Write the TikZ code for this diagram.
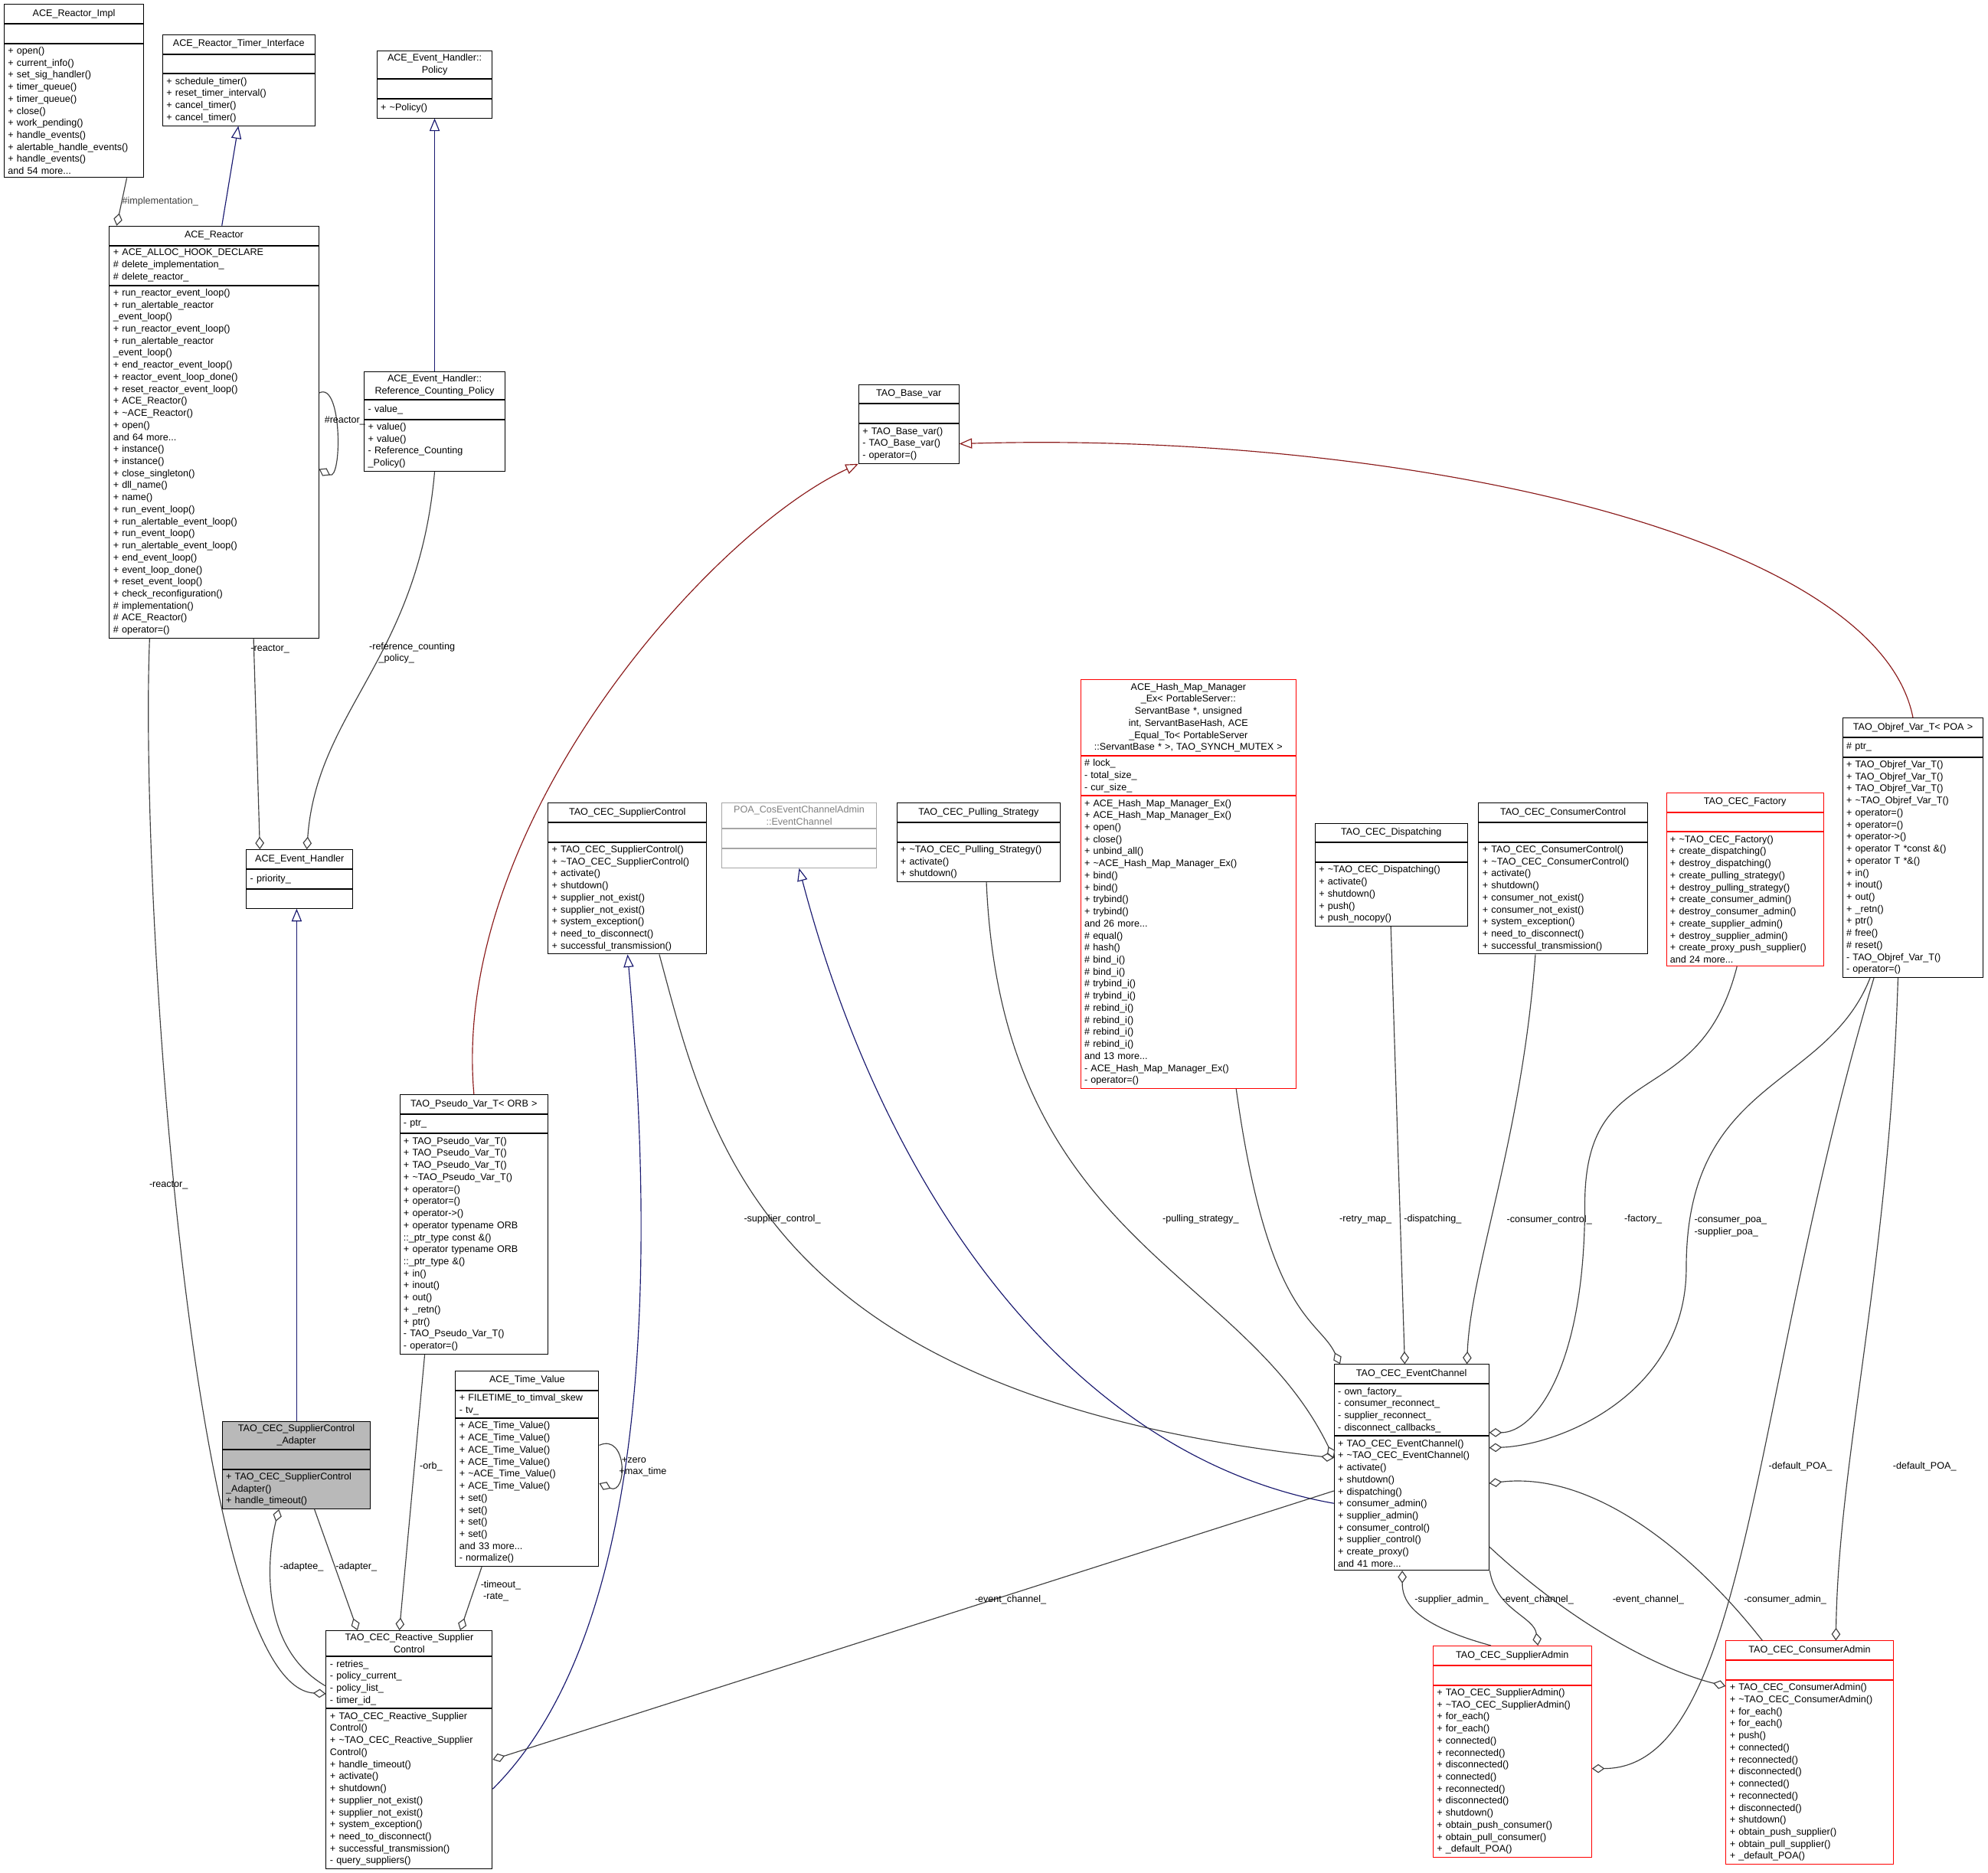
\documentclass[tikz,border=0pt]{standalone}
\usepackage{fontspec}
\setmainfont{Liberation Sans}
\usetikzlibrary{arrows.meta,positioning}

\definecolor{assoc}{HTML}{404040}
\definecolor{inhblue}{HTML}{191970}
\definecolor{inhred}{HTML}{8B1A1A}

\tikzset{
  clspart/.style={draw, line width=0.6pt, inner xsep=3pt, inner ysep=2.5pt,
    align=left, minimum height=15pt, font=\fontsize{7.6}{9.5}\selectfont},
  clstitle/.style={clspart, align=center},
  redcls/.style={draw=red},
  graycls/.style={draw=gray!70, text=gray},
  grayfill/.style={fill=gray!55},
  lbl/.style={font=\fontsize{7.6}{9.5}\selectfont, align=left, inner sep=0pt},
  uses/.style={assoc, line width=0.7pt, -{Diamond[open,length=10pt,width=7pt]}},
  isa/.style={inhblue, line width=0.7pt, -{Triangle[open,length=10pt,width=8pt]}},
  isared/.style={inhred, line width=0.7pt, -{Triangle[open,length=10pt,width=8pt]}}
}

% name, x, y, width, title, attributes, methods
\newcommand\umlclass[8][]{%
  \node[clstitle, #1, text width=#5pt-6pt, minimum width=#5pt, anchor=north west] (#2) at (#3,#4) {#6};
  \node[clspart, #1, text width=#5pt-6pt, minimum width=#5pt, anchor=north] (#2-a) at (#2.south) {#7};
  \node[clspart, #1, text width=#5pt-6pt, minimum width=#5pt, anchor=north] (#2-m) at (#2-a.south) {#8};
}

\begin{document}
\begin{tikzpicture}[x=1pt, y=-1pt]
  \useasboundingbox[fill=white] (0,0) rectangle (1568,1477);

  \umlclass{impl}{3}{3}{110}{ACE\_Reactor\_Impl}{}{+ open()\\+ current\_info()\\+ set\_sig\_handler()\\+ timer\_queue()\\+ timer\_queue()\\+ close()\\+ work\_pending()\\+ handle\_events()\\+ alertable\_handle\_events()\\+ handle\_events()\\and 54 more...}
  \umlclass{timer}{128}{27}{120}{ACE\_Reactor\_Timer\_Interface}{}{+ schedule\_timer()\\+ reset\_timer\_interval()\\+ cancel\_timer()\\+ cancel\_timer()}
  \umlclass{policy}{297}{40}{91}{ACE\_Event\_Handler::\\Policy}{}{+ \textasciitilde Policy()}
  \umlclass{reactor}{86}{178}{165}{ACE\_Reactor}{+ ACE\_ALLOC\_HOOK\_DECLARE\\\# delete\_implementation\_\\\# delete\_reactor\_}{+ run\_reactor\_event\_loop()\\+ run\_alertable\_reactor\\\_event\_loop()\\+ run\_reactor\_event\_loop()\\+ run\_alertable\_reactor\\\_event\_loop()\\+ end\_reactor\_event\_loop()\\+ reactor\_event\_loop\_done()\\+ reset\_reactor\_event\_loop()\\+ ACE\_Reactor()\\+ \textasciitilde ACE\_Reactor()\\+ open()\\and 64 more...\\+ instance()\\+ instance()\\+ close\_singleton()\\+ dll\_name()\\+ name()\\+ run\_event\_loop()\\+ run\_alertable\_event\_loop()\\+ run\_event\_loop()\\+ run\_alertable\_event\_loop()\\+ end\_event\_loop()\\+ event\_loop\_done()\\+ reset\_event\_loop()\\+ check\_reconfiguration()\\\# implementation()\\\# ACE\_Reactor()\\\# operator=()}
  \umlclass{refpol}{287}{293}{111}{ACE\_Event\_Handler::\\Reference\_Counting\_Policy}{- value\_}{+ value()\\+ value()\\- Reference\_Counting\\\_Policy()}
  \umlclass{basevar}{677}{303}{79}{TAO\_Base\_var}{}{+ TAO\_Base\_var()\\- TAO\_Base\_var()\\- operator=()}
  \umlclass{evh}{194}{670}{84}{ACE\_Event\_Handler}{- priority\_}{}
  \umlclass[grayfill]{adapter}{175}{1121}{117}{TAO\_CEC\_SupplierControl\\\_Adapter}{}{+ TAO\_CEC\_SupplierControl\\\_Adapter()\\+ handle\_timeout()}
  \umlclass{pseudo}{315}{863}{117}{TAO\_Pseudo\_Var\_T< ORB >}{- ptr\_}{+ TAO\_Pseudo\_Var\_T()\\+ TAO\_Pseudo\_Var\_T()\\+ TAO\_Pseudo\_Var\_T()\\+ \textasciitilde TAO\_Pseudo\_Var\_T()\\+ operator=()\\+ operator=()\\+ operator->()\\+ operator typename ORB\\::\_ptr\_type const \&()\\+ operator typename ORB\\::\_ptr\_type \&()\\+ in()\\+ inout()\\+ out()\\+ \_retn()\\+ ptr()\\- TAO\_Pseudo\_Var\_T()\\- operator=()}
  \umlclass{timeval}{359}{1081}{113}{ACE\_Time\_Value}{+ FILETIME\_to\_timval\_skew\\- tv\_}{+ ACE\_Time\_Value()\\+ ACE\_Time\_Value()\\+ ACE\_Time\_Value()\\+ ACE\_Time\_Value()\\+ \textasciitilde ACE\_Time\_Value()\\+ ACE\_Time\_Value()\\+ set()\\+ set()\\+ set()\\+ set()\\and 33 more...\\- normalize()}
  \umlclass{reactive}{257}{1286}{131}{TAO\_CEC\_Reactive\_Supplier\\Control}{- retries\_\\- policy\_current\_\\- policy\_list\_\\- timer\_id\_}{+ TAO\_CEC\_Reactive\_Supplier\\Control()\\+ \textasciitilde TAO\_CEC\_Reactive\_Supplier\\Control()\\+ handle\_timeout()\\+ activate()\\+ shutdown()\\+ supplier\_not\_exist()\\+ supplier\_not\_exist()\\+ system\_exception()\\+ need\_to\_disconnect()\\+ successful\_transmission()\\- query\_suppliers()}
  \umlclass{supctl}{432}{633}{125}{TAO\_CEC\_SupplierControl}{}{+ TAO\_CEC\_SupplierControl()\\+ \textasciitilde TAO\_CEC\_SupplierControl()\\+ activate()\\+ shutdown()\\+ supplier\_not\_exist()\\+ supplier\_not\_exist()\\+ system\_exception()\\+ need\_to\_disconnect()\\+ successful\_transmission()}
  \umlclass[graycls]{poaec}{569}{633}{122}{POA\_CosEventChannelAdmin\\::EventChannel}{}{}
  \umlclass{pulling}{707}{633}{129}{TAO\_CEC\_Pulling\_Strategy}{}{+ \textasciitilde TAO\_CEC\_Pulling\_Strategy()\\+ activate()\\+ shutdown()}
  \umlclass[redcls]{hashmap}{852}{536}{170}{ACE\_Hash\_Map\_Manager\\\_Ex< PortableServer::\\ServantBase *, unsigned\\ int, ServantBaseHash, ACE\\\_Equal\_To< PortableServer\\::ServantBase * >, TAO\_SYNCH\_MUTEX >}{\# lock\_\\- total\_size\_\\- cur\_size\_}{+ ACE\_Hash\_Map\_Manager\_Ex()\\+ ACE\_Hash\_Map\_Manager\_Ex()\\+ open()\\+ close()\\+ unbind\_all()\\+ \textasciitilde ACE\_Hash\_Map\_Manager\_Ex()\\+ bind()\\+ bind()\\+ trybind()\\+ trybind()\\and 26 more...\\\# equal()\\\# hash()\\\# bind\_i()\\\# bind\_i()\\\# trybind\_i()\\\# trybind\_i()\\\# rebind\_i()\\\# rebind\_i()\\\# rebind\_i()\\\# rebind\_i()\\and 13 more...\\- ACE\_Hash\_Map\_Manager\_Ex()\\- operator=()}
  \umlclass{dispatch}{1037}{649}{120}{TAO\_CEC\_Dispatching}{}{+ \textasciitilde TAO\_CEC\_Dispatching()\\+ activate()\\+ shutdown()\\+ push()\\+ push\_nocopy()}
  \umlclass{conctl}{1166}{633}{133}{TAO\_CEC\_ConsumerControl}{}{+ TAO\_CEC\_ConsumerControl()\\+ \textasciitilde TAO\_CEC\_ConsumerControl()\\+ activate()\\+ shutdown()\\+ consumer\_not\_exist()\\+ consumer\_not\_exist()\\+ system\_exception()\\+ need\_to\_disconnect()\\+ successful\_transmission()}
  \umlclass[redcls]{factory}{1314}{625}{124}{TAO\_CEC\_Factory}{}{+ \textasciitilde TAO\_CEC\_Factory()\\+ create\_dispatching()\\+ destroy\_dispatching()\\+ create\_pulling\_strategy()\\+ destroy\_pulling\_strategy()\\+ create\_consumer\_admin()\\+ destroy\_consumer\_admin()\\+ create\_supplier\_admin()\\+ destroy\_supplier\_admin()\\+ create\_proxy\_push\_supplier()\\and 24 more...}
  \umlclass{objref}{1453}{566}{111}{TAO\_Objref\_Var\_T< POA >}{\# ptr\_}{+ TAO\_Objref\_Var\_T()\\+ TAO\_Objref\_Var\_T()\\+ TAO\_Objref\_Var\_T()\\+ \textasciitilde TAO\_Objref\_Var\_T()\\+ operator=()\\+ operator=()\\+ operator->()\\+ operator T *const \&()\\+ operator T *\&()\\+ in()\\+ inout()\\+ out()\\+ \_retn()\\+ ptr()\\\# free()\\\# reset()\\- TAO\_Objref\_Var\_T()\\- operator=()}
  \umlclass{ec}{1052}{1076}{122}{TAO\_CEC\_EventChannel}{- own\_factory\_\\- consumer\_reconnect\_\\- supplier\_reconnect\_\\- disconnect\_callbacks\_}{+ TAO\_CEC\_EventChannel()\\+ \textasciitilde TAO\_CEC\_EventChannel()\\+ activate()\\+ shutdown()\\+ dispatching()\\+ consumer\_admin()\\+ supplier\_admin()\\+ consumer\_control()\\+ supplier\_control()\\+ create\_proxy()\\and 41 more...}
  \umlclass[redcls]{supadm}{1130}{1298}{125}{TAO\_CEC\_SupplierAdmin}{}{+ TAO\_CEC\_SupplierAdmin()\\+ \textasciitilde TAO\_CEC\_SupplierAdmin()\\+ for\_each()\\+ for\_each()\\+ connected()\\+ reconnected()\\+ disconnected()\\+ connected()\\+ reconnected()\\+ disconnected()\\+ shutdown()\\+ obtain\_push\_consumer()\\+ obtain\_pull\_consumer()\\+ \_default\_POA()}
  \umlclass[redcls]{conadm}{1361}{1294}{132}{TAO\_CEC\_ConsumerAdmin}{}{+ TAO\_CEC\_ConsumerAdmin()\\+ \textasciitilde TAO\_CEC\_ConsumerAdmin()\\+ for\_each()\\+ for\_each()\\+ push()\\+ connected()\\+ reconnected()\\+ disconnected()\\+ connected()\\+ reconnected()\\+ disconnected()\\+ shutdown()\\+ obtain\_push\_supplier()\\+ obtain\_pull\_supplier()\\+ \_default\_POA()}

  % inheritance
  \draw[isa] (reactor.north -| 175,0) -- (timer-m.south -| 188,0);
  \draw[isa] (refpol.north) -- (policy-m.south);
  \draw[isa] (adapter.north -| 234,0) -- (evh-m.south -| 234,0);
  \draw[isared] (pseudo.north) .. controls (355,650) and (560,420) .. (basevar-m.south west);
  \draw[isared] (objref.north) .. controls (1480,420) and (1100,340) .. (basevar-m.east);
  \draw[isa] (reactive-m.east) .. controls (470,1330) and (530,1150) .. (supctl-m.south -| 495,0);
  \draw[isa] (ec-m.west) .. controls (850,1150) and (700,950) .. (poaec-m.south);

  % associations
  \draw[uses] (impl-m.south -| 100,0) -- (reactor.north -| 92,0) node[lbl, pos=0.5, right] (l-impl) {\#implementation\_};
  \draw[uses] (reactor-m.east |- 0,310) .. controls (270,300) and (270,380) .. (reactor-m.east |- 0,370);
  \node[lbl] (l-selfreactor) at (272,332) {\#reactor\_};
  \draw[uses] (reactor-m.south -| 200,0) -- (evh.north -| 205,0);
  \node[lbl] (l-reactor1) at (213,512) {-reactor\_};
  \draw[uses] (refpol-m.south) .. controls (330,520) and (250,560) .. (evh.north -| 242,0);
  \node[lbl] (l-refpol) at (325,515) {-reference\_counting\\\quad\_policy\_};
  \draw[uses] (reactor-m.south -| 118,0) .. controls (110,700) and (150,1330) .. (reactive-m.west |- 0,1336);
  \node[lbl] (l-reactor2) at (133,935) {-reactor\_};
  \draw[uses] (adapter-m.south -| 248,0) -- (reactive.north -| 282,0);
  \node[lbl] (l-adapter) at (281,1236) {-adapter\_};
  \draw[uses] (reactive-m.west |- 0,1330) .. controls (205,1300) and (210,1230) .. (adapter-m.south -| 220,0);
  \node[lbl] (l-adaptee) at (238,1236) {-adaptee\_};
  \draw[uses] (pseudo-m.south -| 335,0) -- (reactive.north -| 315,0);
  \node[lbl] (l-orb) at (340,1157) {-orb\_};
  \draw[uses] (timeval-m.south -| 380,0) -- (reactive.north -| 363,0);
  \node[lbl] (l-timeout) at (395,1255) {-timeout\_\\\ -rate\_};
  \draw[uses] (timeval-m.east |- 0,1140) .. controls (495,1130) and (495,1180) .. (timeval-m.east |- 0,1170);
  \node[lbl] (l-zero) at (507,1157) {\ +zero\\+max\_time};
  \draw[uses] (supctl-m.south -| 520,0) .. controls (560,900) and (600,1100) .. (ec-m.west |- 0,1150);
  \node[lbl] (l-supctl) at (617,962) {-supplier\_control\_};
  \draw[uses] (pulling-m.south -| 778,0) .. controls (790,980) and (980,1000) .. (ec-m.west |- 0,1150);
  \node[lbl] (l-pulling) at (947,962) {-pulling\_strategy\_};
  \draw[uses] (hashmap-m.south -| 975,0) .. controls (1000,1040) and (1040,1040) .. (ec.north -| 1057,0);
  \node[lbl] (l-retry) at (1077,962) {-retry\_map\_};
  \draw[uses] (dispatch-m.south -| 1097,0) -- (ec.north -| 1108,0);
  \node[lbl] (l-dispatch) at (1130,962) {-dispatching\_};
  \draw[uses] (conctl-m.south -| 1211,0) .. controls (1200,900) and (1160,1000) .. (ec.north -| 1157,0);
  \node[lbl] (l-conctl) at (1222,962) {-consumer\_control\_};
  \draw[uses] (factory-m.south -| 1370,0) .. controls (1340,880) and (1250,830) .. (1250,950) .. controls (1250,1080) and (1210,1130) .. (ec-m.east |- 0,1130);
  \node[lbl] (l-factory) at (1296,962) {-factory\_};
  \draw[uses] (objref-m.south -| 1475,0) .. controls (1440,860) and (1330,850) .. (1330,1000) .. controls (1330,1100) and (1230,1140) .. (ec-m.east |- 0,1142);
  \node[lbl] (l-poa) at (1365,968) {-consumer\_poa\_\\-supplier\_poa\_};
  \draw[uses] (objref-m.south -| 1478,0) .. controls (1380,1100) and (1380,1395) .. (supadm-m.east |- 0,1395);
  \node[lbl] (l-defpoa1) at (1420,1157) {-default\_POA\_};
  \draw[uses] (objref-m.south -| 1497,0) .. controls (1490,1000) and (1450,1150) .. (conadm.north -| 1448,0);
  \node[lbl] (l-defpoa2) at (1518,1157) {-default\_POA\_};
  \draw[uses] (ec-m.west |- 0,1176) -- (reactive-m.east |- 0,1388);
  \node[lbl] (l-ec1) at (797,1262) {-event\_channel\_};
  \draw[uses] (supadm.north -| 1176,0) .. controls (1110,1280) and (1106,1260) .. (ec-m.south -| 1106,0);
  \node[lbl] (l-supadm) at (1145,1262) {-supplier\_admin\_};
  \draw[uses] (ec-m.south -| 1175,0) .. controls (1180,1270) and (1210,1275) .. (supadm.north -| 1213,0);
  \node[lbl] (l-ec2) at (1213,1262) {-event\_channel\_};
  \draw[uses] (ec-m.east |- 0,1220) .. controls (1250,1290) and (1320,1320) .. (conadm-m.west |- 0,1330);
  \node[lbl] (l-ec3) at (1300,1262) {-event\_channel\_};
  \draw[uses] (conadm.north -| 1390,0) .. controls (1340,1230) and (1260,1160) .. (ec-m.east |- 0,1170);
  \node[lbl] (l-conadm) at (1408,1262) {-consumer\_admin\_};
\end{tikzpicture}
\end{document}
